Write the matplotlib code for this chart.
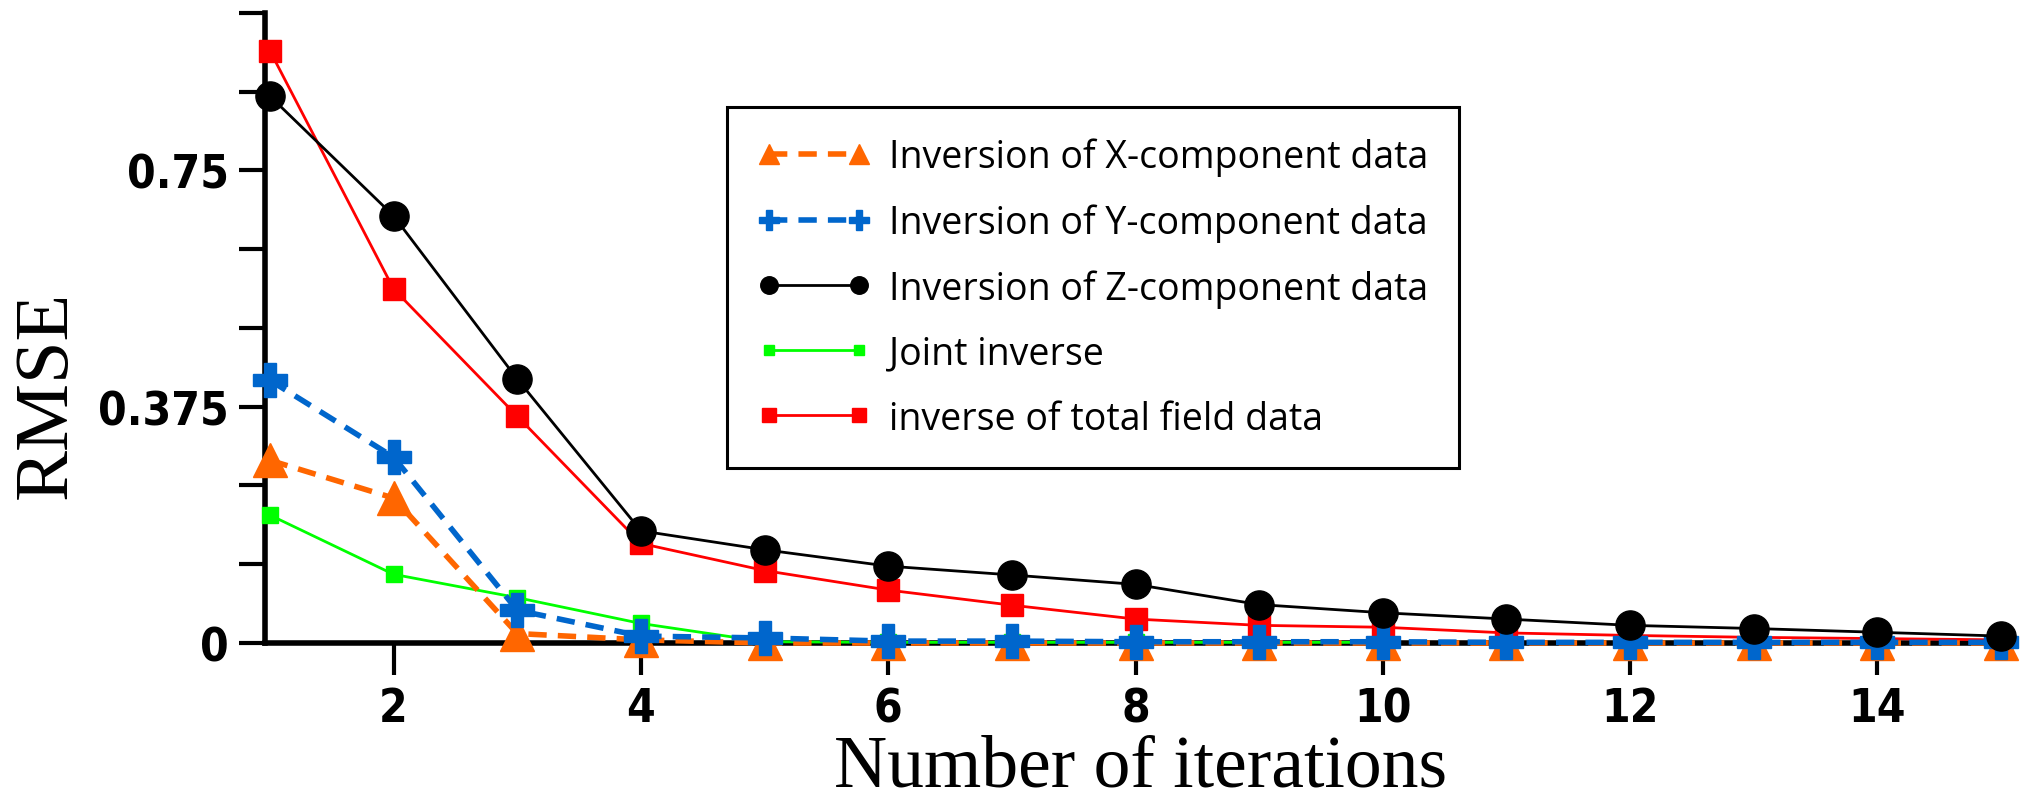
import matplotlib
matplotlib.use("Agg")
import matplotlib.pyplot as plt
from matplotlib import font_manager
from matplotlib.ticker import FixedLocator

# data
iterations = list(range(1, 16))
x_comp = [0.29, 0.23, 0.015, 0.005, 0, 0, 0, 0, 0, 0, 0, 0, 0, 0, 0]
y_comp = [0.417, 0.295, 0.052, 0.011, 0.008, 0.003, 0.003, 0.002, 0.002, 0.002, 0.001, 0.001, 0.001, 0.001, 0.001]
z_comp = [0.868, 0.678, 0.419, 0.178, 0.148, 0.122, 0.108, 0.093, 0.061, 0.048, 0.038, 0.028, 0.023, 0.017, 0.011]
joint_iters = list(range(1, 11))
joint = [0.203, 0.109, 0.072, 0.031, 0.002, 0.001, 0.001, 0.001, 0.001, 0.001]
total_field = [0.94, 0.562, 0.36, 0.158, 0.115, 0.084, 0.06, 0.038, 0.028, 0.025, 0.016, 0.012, 0.009, 0.007, 0.005]

y_major = [0, 0.375, 0.75]
y_major_labels = ["0", "0.375", "0.75"]
y_minor = [0.125, 0.25, 0.5, 0.625, 0.875, 1.0]
x_major = [2, 4, 6, 8, 10, 12, 14]

# a narrow bold face for the tick numbers, if one is installed
tick_prop = font_manager.FontProperties(family="Liberation Sans", weight="bold", size=31)
for f in font_manager.fontManager.ttflist:
    fn = f.fname.replace("-", "").replace("_", "")
    if ("Narrow" in f.name or "Condensed" in fn) and ("Bold" in fn) and ("Italic" not in fn) and ("Oblique" not in fn):
        tick_prop = font_manager.FontProperties(fname=f.fname, size=33)
        break

fig = plt.figure(figsize=(20.32, 8.12), dpi=100)
ax = fig.add_axes([0.1304, 0.2069, 0.8617, 0.7759])

ax.plot(joint_iters, joint, color="#00ff00", lw=2, marker="s", ms=11,
        label="Joint inverse", zorder=3, clip_on=False)
ax.plot(iterations, total_field, color="#ff0000", lw=2, marker="s", ms=16,
        label="inverse of total field data", zorder=3, clip_on=False)
ax.plot(iterations, x_comp, color="#ff6600", lw=4, ls="--", dashes=(3.3, 2),
        marker="^", ms=24, label="Inversion of X-component data", zorder=4, clip_on=False)
ax.plot(iterations, y_comp, color="#0066cc", lw=4, ls="--", dashes=(3.3, 2),
        marker="P", ms=25, label="Inversion of Y-component data", zorder=5, clip_on=False)
ax.plot(iterations, z_comp, color="black", lw=2, marker="o", ms=21,
        label="Inversion of Z-component data", zorder=6, clip_on=False)

ax.set_xlim(0.96, 15.12)
ax.set_ylim(0, 1.0)

for side in ["top", "right"]:
    ax.spines[side].set_visible(False)
for side in ["left", "bottom"]:
    ax.spines[side].set_linewidth(4)

ax.set_xticks(x_major)
ax.set_yticks(y_major)
ax.set_yticklabels(y_major_labels)
ax.yaxis.set_minor_locator(FixedLocator(y_minor))
ax.tick_params(axis="x", which="major", direction="out", length=23, width=3, pad=8)
ax.tick_params(axis="y", which="both", direction="out", length=19, width=3, pad=7)
for lab in ax.get_xticklabels() + ax.get_yticklabels():
    lab.set_fontproperties(tick_prop)

ax.set_xlabel("Number of iterations", fontfamily="Liberation Serif", fontsize=53)
ax.xaxis.set_label_coords(0.5, -0.145)
ax.xaxis.label.set_va("top")
ax.set_ylabel("RMSE", fontfamily="Liberation Serif", fontsize=55)
ax.yaxis.set_label_coords(-0.114, 0.395)
ax.yaxis.label.set_ha("center")
ax.yaxis.label.set_va("baseline")

handles, labels = ax.get_legend_handles_labels()
order = [2, 3, 4, 0, 1]
leg = fig.legend([handles[i] for i in order], [labels[i] for i in order],
                 loc="upper left", bbox_to_anchor=(0.358, 0.867),
                 prop={"family": "Open Sans", "size": 27},
                 numpoints=2, markerscale=0.6, handlelength=3.0,
                 labelspacing=0.72, borderpad=0.82, handletextpad=0.5,
                 borderaxespad=0, fancybox=False, framealpha=1, edgecolor="black")
leg.get_frame().set_linewidth(2.2)

fig.savefig("out.png", dpi=100)
